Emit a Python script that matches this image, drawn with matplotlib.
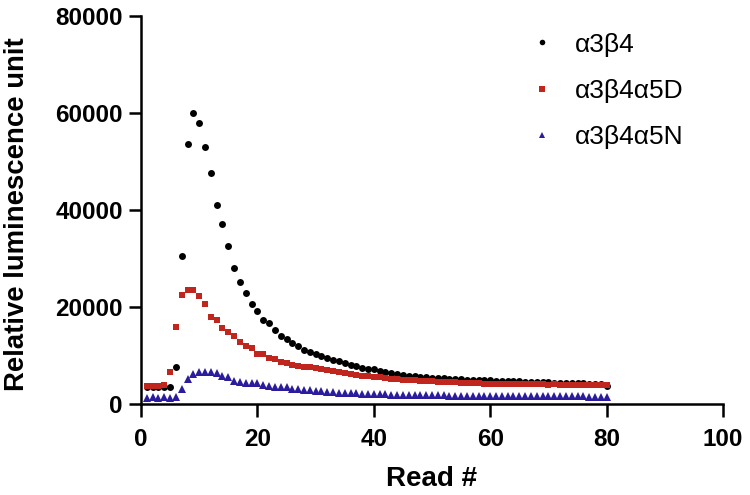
import numpy as np
import matplotlib.pyplot as plt
from matplotlib.lines import Line2D

plt.rcParams['font.family'] = ['Liberation Sans', 'DejaVu Sans']

# Read numbers 1..80
reads = list(range(1, 81))

a3b4 = [3400, 3450, 3400, 3500, 3550, 7700, 30500, 53500, 60000, 58000,
        53000, 47500, 41000, 37000, 32500, 28000, 25200, 22800, 20500, 19200,
        17300, 16700, 15300, 14000, 13400, 12600, 11900, 11200, 10700, 10300,
        9800, 9400, 9100, 8800, 8400, 8100, 7800, 7500, 7300, 7100,
        6800, 6500, 6300, 6100, 6000, 5850, 5700, 5600, 5500, 5400,
        5350, 5250, 5200, 5150, 5100, 5000, 5000, 4950, 4900, 4850,
        4800, 4750, 4700, 4650, 4650, 4600, 4550, 4500, 4500, 4450,
        4400, 4400, 4350, 4300, 4300, 4250, 4200, 4200, 4150, 3700]

a3b4a5D = [3700, 3750, 3700, 3800, 6500, 15900, 22500, 23500, 23500, 22300,
           20500, 18000, 17300, 15700, 14900, 14000, 12800, 12000, 11600, 10300,
           10200, 9500, 9300, 8700, 8500, 8000, 7800, 7700, 7600, 7400,
           7200, 7000, 6800, 6600, 6400, 6200, 6000, 5850, 5700, 5600,
           5450, 5300, 5200, 5100, 5000, 4900, 4850, 4800, 4700, 4650,
           4600, 4550, 4500, 4450, 4400, 4350, 4300, 4250, 4200, 4200,
           4150, 4200, 4100, 4150, 4100, 4100, 4050, 4100, 4050, 4000,
           4050, 4000, 4000, 3950, 4000, 3950, 3950, 3900, 3950, 3900]

a3b4a5N = [1300, 1350, 1300, 1350, 1300, 1400, 3100, 5100, 6200, 6500,
           6600, 6500, 6400, 5800, 5500, 4800, 4600, 4400, 4250, 4250,
           3800, 3750, 3550, 3550, 3400, 3100, 3050, 2900, 2800, 2700,
           2600, 2500, 2400, 2300, 2250, 2200, 2150, 2100, 2050, 2000,
           1950, 1950, 1900, 1900, 1850, 1850, 1800, 1800, 1800, 1750,
           1750, 1750, 1700, 1700, 1700, 1700, 1650, 1650, 1650, 1650,
           1650, 1600, 1600, 1600, 1600, 1600, 1600, 1600, 1550, 1550,
           1550, 1550, 1550, 1550, 1550, 1550, 1500, 1500, 1500, 1500]

labels = ['\u03b13\u03b24', '\u03b13\u03b24\u03b15D', '\u03b13\u03b24\u03b15N']
colors = ['#000000', '#c0261e', '#2a1c9c']
markers = ['o', 's', '^']

fig = plt.figure(figsize=(7.5, 4.95), dpi=100)
ax = fig.add_axes([0.188, 0.184, 0.776, 0.784])

for ys, c, m in zip([a3b4, a3b4a5D, a3b4a5N], colors, markers):
    ax.plot(reads, ys, linestyle='none', marker=m, color=c,
            markersize=5 if m != '^' else 5.5, markeredgewidth=0)

ax.set_xlim(0, 100)
ax.set_ylim(0, 80000)
ax.set_xticks([0, 20, 40, 60, 80, 100])
ax.set_yticks([0, 20000, 40000, 60000, 80000])

for s in ['top', 'right']:
    ax.spines[s].set_visible(False)
for s in ['left', 'bottom']:
    ax.spines[s].set_linewidth(1.8)

ax.tick_params(direction='out', length=9, width=1.8, labelsize=17.5)
ax.tick_params(axis='y', pad=4)
ax.tick_params(axis='x', pad=8)
for t in ax.get_xticklabels() + ax.get_yticklabels():
    t.set_fontweight('bold')

ax.set_xlabel('Read #', fontsize=20, fontweight='bold')
ax.set_ylabel('Relative luminescence unit', fontsize=19.8, fontweight='bold')
ax.xaxis.set_label_coords(0.5, -0.16)
ax.yaxis.set_label_coords(-0.19, 0.49)

handles = [Line2D([], [], linestyle='none', marker=m, color=c, markersize=4,
                  markeredgewidth=0) for m, c in zip(markers, colors)]
fig.legend(handles, labels, loc='upper left', bbox_to_anchor=(0.705, 0.934),
           frameon=False, fontsize=19, labelspacing=0.84, handletextpad=0.75,
           handlelength=1.0, borderpad=0, borderaxespad=0)

fig.savefig('out.png', dpi=100)
